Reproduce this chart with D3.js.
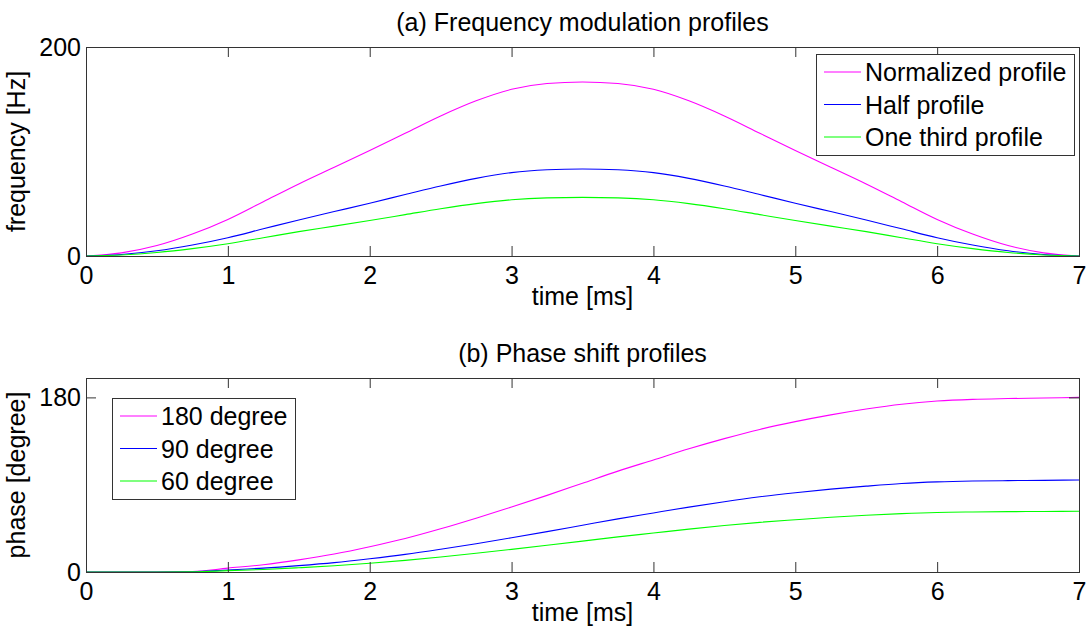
<!DOCTYPE html>
<html>
<head>
<meta charset="utf-8">
<script src="https://cdn.jsdelivr.net/npm/d3@7"></script>
<style>
  body { margin: 0; background: #fff; }
  text { font-family: "Liberation Sans", Arial, sans-serif; fill: #000; }
</style>
</head>
<body>
<div id="plot"></div>
<script>
// sample times (ms)
var timeMs = [0, 0.25, 0.5, 0.75, 1, 1.25, 1.5, 1.75, 2, 2.25, 2.5, 2.75, 3, 3.25, 3.5,
  3.75, 4, 4.25, 4.5, 4.75, 5, 5.25, 5.5, 5.75, 6, 6.25, 6.5, 6.75, 7];

// (a) frequency profiles, Hz
var freqNormalized = [0, 3, 10, 21, 35, 52, 69, 85, 101, 117.5, 134, 148.5, 159.5, 165, 166.5,
  165, 159.5, 148.5, 134, 117.5, 101, 85, 69, 52, 35, 21, 10, 3, 0];
var freqHalf = [0, 1.5, 5, 10.5, 17.5, 26, 34.5, 42.5, 50.5, 58.8, 67, 74.3, 79.8, 82.5, 83.3,
  82.5, 79.8, 74.3, 67, 58.8, 50.5, 42.5, 34.5, 26, 17.5, 10.5, 5, 1.5, 0];
var freqThird = [0, 1, 3.4, 7.1, 11.8, 17.5, 23.3, 28.6, 34, 39.6, 45.2, 50.1, 53.8, 55.6, 56.1,
  55.6, 53.8, 50.1, 45.2, 39.6, 34, 28.6, 23.3, 17.5, 11.8, 7.1, 3.4, 1, 0];

// (b) phase profiles, degree
var phase180 = [0, 0, 0, 0.5, 4, 7.5, 12.5, 18.5, 26, 34.5, 44.5, 55.5, 67, 79, 91.5,
  104, 115.5, 127, 137.5, 147, 155, 162, 168, 173, 176.3, 178, 178.8, 179.4, 180];
var phase90 = [0, 0, 0, 0.3, 2.1, 4, 6.6, 9.7, 13.7, 18.2, 23.5, 29.2, 35.3, 41.6, 48.2,
  54.8, 60.9, 66.9, 72.5, 77.5, 81.7, 85.4, 88.5, 91.2, 92.9, 93.8, 94.2, 94.5, 94.9];
var phase60 = [0, 0, 0, 0.2, 1.4, 2.6, 4.4, 6.4, 9, 12, 15.5, 19.3, 23.3, 27.5, 31.8,
  36.2, 40.2, 44.2, 47.9, 51.2, 53.9, 56.4, 58.5, 60.2, 61.4, 61.9, 62.2, 62.4, 62.6];

var xTicks = [0, 1, 2, 3, 4, 5, 6, 7];
var freqTicks = [0, 200];
var phaseTicks = [0, 180];
var freqNames = ["Normalized profile", "Half profile", "One third profile"];
var phaseNames = ["180 degree", "90 degree", "60 degree"];
var colors = ["#ff00ff", "#0000ff", "#00ff00"];

var width = 1086, height = 632;
var left = 86, right = 1079;
var fontSize = 25;
var axisColor = "#333";

var svg = d3.select("#plot").append("svg")
  .attr("width", width)
  .attr("height", height);

var x = d3.scaleLinear().domain([0, 7]).range([left, right]);

function drawPanel(cfg) {
  var y = d3.scaleLinear().domain([0, 200]).range([cfg.bottom, cfg.top]);
  var g = svg.append("g");

  var line = d3.line()
    .curve(d3.curveMonotoneX)
    .x(function (d) { return x(d[0]); })
    .y(function (d) { return y(d[1]); });

  cfg.series.forEach(function (s, i) {
    g.append("path")
      .datum(timeMs.map(function (t, j) { return [t, s[j]]; }))
      .attr("fill", "none")
      .attr("stroke", colors[i])
      .attr("stroke-width", 1.1)
      .attr("d", line);
  });

  // axes, ticks pointing inward
  var ax = g.append("g").attr("transform", "translate(0," + cfg.bottom + ")")
    .call(d3.axisBottom(x).tickValues(xTicks).tickFormat(d3.format("d"))
      .tickSizeInner(-10).tickSizeOuter(0).tickPadding(10));
  var axTop = g.append("g").attr("transform", "translate(0," + cfg.top + ")")
    .call(d3.axisTop(x).tickValues(xTicks).tickSizeInner(-10).tickSizeOuter(0).tickFormat(""));
  var ay = g.append("g").attr("transform", "translate(" + left + ",0)")
    .call(d3.axisLeft(y).tickValues(cfg.yTicks).tickFormat(d3.format("d"))
      .tickSizeInner(-10).tickSizeOuter(0).tickPadding(5));
  var ayR = g.append("g").attr("transform", "translate(" + right + ",0)")
    .call(d3.axisRight(y).tickValues(cfg.yTicks).tickSizeInner(-10).tickSizeOuter(0).tickFormat(""));

  [ax, axTop, ay, ayR].forEach(function (a) {
    a.select(".domain").remove();
    a.selectAll("line").attr("stroke", axisColor);
    a.selectAll("text").style("font-size", fontSize + "px").attr("fill", "#000");
  });

  g.append("rect")
    .attr("x", left + 0.5).attr("y", cfg.top + 0.5)
    .attr("width", right - left).attr("height", cfg.bottom - cfg.top)
    .attr("fill", "none").attr("stroke", axisColor);

  g.append("text")
    .attr("x", (left + right) / 2).attr("y", cfg.top - 16)
    .attr("text-anchor", "middle").style("font-size", fontSize + "px")
    .text(cfg.title);

  g.append("text")
    .attr("x", (left + right) / 2).attr("y", cfg.bottom + 49)
    .attr("text-anchor", "middle").style("font-size", fontSize + "px")
    .text("time [ms]");

  g.append("text")
    .attr("transform", "translate(25," + ((cfg.top + cfg.bottom) / 2) + ") rotate(-90)")
    .attr("text-anchor", "middle").style("font-size", fontSize + "px")
    .text(cfg.yLabel);

  // legend
  var lg = g.append("g").attr("transform", "translate(" + cfg.legend[0] + "," + cfg.legend[1] + ")");
  lg.append("rect")
    .attr("x", 0.5).attr("y", 0.5)
    .attr("width", cfg.legend[2]).attr("height", 101)
    .attr("fill", "#fff").attr("stroke", axisColor);
  cfg.names.forEach(function (n, i) {
    var ly = 18 + i * 32.5;
    lg.append("line")
      .attr("x1", 8).attr("x2", 45)
      .attr("y1", ly).attr("y2", ly)
      .attr("stroke", colors[i]).attr("stroke-width", 1.1);
    lg.append("text")
      .attr("x", 49).attr("y", ly + 9)
      .style("font-size", fontSize + "px")
      .text(n);
  });
}

drawPanel({
  top: 47, bottom: 256,
  series: [freqNormalized, freqHalf, freqThird],
  yTicks: freqTicks,
  title: "(a) Frequency modulation profiles",
  yLabel: "frequency [Hz]",
  names: freqNames,
  legend: [816, 54, 258]
});

drawPanel({
  top: 378, bottom: 572,
  series: [phase180, phase90, phase60],
  yTicks: phaseTicks,
  title: "(b) Phase shift profiles",
  yLabel: "phase [degree]",
  names: phaseNames,
  legend: [112, 398, 183]
});
</script>
</body>
</html>
